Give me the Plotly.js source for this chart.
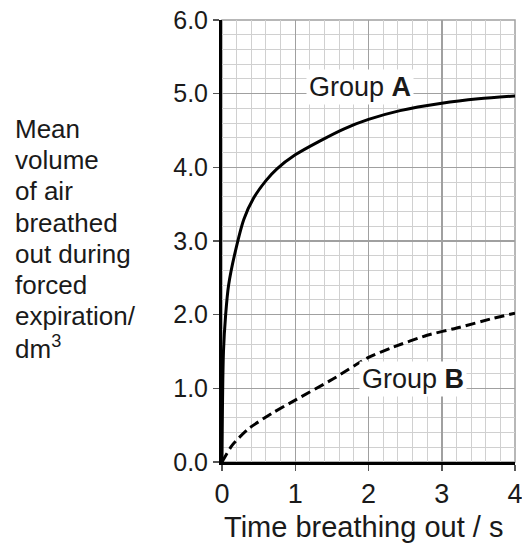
<!DOCTYPE html>
<html>
<head>
<meta charset="utf-8">
<script src="https://cdn.plot.ly/plotly-3.0.1.min.js"></script>
<style>html,body{margin:0;padding:0;background:#fff;}#chart{width:522px;height:545px;}</style>
</head>
<body>
<div id="chart"></div>
<script>
// ---- data ----
const timeA = [0, 0.02, 0.05, 0.09, 0.18, 0.30, 0.43, 0.60, 0.75, 1.00, 1.34, 1.66, 2.00, 2.43, 3.00, 3.50, 4.00];
const volA  = [0, 1.50, 2.00, 2.40, 2.85, 3.30, 3.58, 3.82, 3.98, 4.17, 4.36, 4.52, 4.65, 4.77, 4.87, 4.93, 4.97];
const timeB = [0, 0.14, 0.36, 0.68, 1.00, 1.52, 2.00, 2.34, 2.80, 3.25, 3.70, 4.00];
const volB  = [0, 0.23, 0.45, 0.66, 0.84, 1.13, 1.42, 1.56, 1.72, 1.83, 1.95, 2.02];
const xTickVals = [0, 1, 2, 3, 4];
const yTickVals = [0, 1, 2, 3, 4, 5, 6];
const yTitleLines = ["Mean", "volume", "of air", "breathed", "out during", "forced", "expiration/", "dm<sup>3</sup>"];
const xTitleText = "Time breathing out / s";
const labelA = "Group <b>A</b>";
const labelB = "Group <b>B</b>";

// ---- layout helpers ----
const W = 522, H = 545, M = {l: 222, r: 7, t: 20, b: 83};
const PW = W - M.l - M.r, PH = H - M.t - M.b;
const pxX = px => (px - M.l) / PW;
const pxY = py => (H - M.b - py) / PH;
const FONT = "Liberation Sans, Arial, Helvetica, sans-serif";
const TXT = "#1a1a1a";

const traces = [
  {x: timeA, y: volA, mode: "lines", line: {color: "#000", width: 3, shape: "spline", smoothing: 0.9}, hoverinfo: "skip"},
  {x: timeB, y: volB, mode: "lines", line: {color: "#000", width: 3, dash: "10px,5px", shape: "spline", smoothing: 0.6}, hoverinfo: "skip"}
];

const annotations = [];
yTitleLines.forEach((t, i) => {
  annotations.push({
    text: t, xref: "paper", yref: "paper", x: pxX(13), y: pxY(129 + i * 31.2),
    xanchor: "left", yanchor: "middle", showarrow: false, align: "left",
    font: {family: FONT, size: 26, color: TXT}
  });
});
annotations.push({text: xTitleText, xref: "paper", yref: "paper", x: pxX(363), y: pxY(527),
  xanchor: "center", yanchor: "middle", showarrow: false, font: {family: FONT, size: 29, color: TXT}});
annotations.push({text: labelA, xref: "x", yref: "y", x: 1.88, y: 5.09, xanchor: "center", yanchor: "middle",
  showarrow: false, bgcolor: "#fff", borderpad: 2, font: {family: FONT, size: 27, color: TXT}});
annotations.push({text: labelB, xref: "x", yref: "y", x: 2.61, y: 1.13, xanchor: "center", yanchor: "middle",
  showarrow: false, bgcolor: "#fff", borderpad: 2, font: {family: FONT, size: 27, color: TXT}});

const layout = {
  width: W, height: H, margin: M, paper_bgcolor: "#fff", plot_bgcolor: "#fff",
  showlegend: false, font: {family: FONT, color: TXT},
  xaxis: {
    range: [0, 4], tickvals: xTickVals, ticktext: xTickVals.map(String),
    ticklabeloverflow: "allow",
    showgrid: true, gridcolor: "#a0a0a0", gridwidth: 1.5,
    minor: {dtick: 0.2, showgrid: true, gridcolor: "#d0d0d0", gridwidth: 1},
    zeroline: false, showline: true, linecolor: "#000", linewidth: 3,
    ticks: "outside", ticklen: 6, tickwidth: 1.5, tickcolor: "#555",
    tickfont: {family: FONT, size: 27, color: TXT}, fixedrange: true
  },
  yaxis: {
    range: [0, 6], tickvals: yTickVals, tickformat: ".1f",
    ticklabeloverflow: "allow",
    showgrid: true, gridcolor: "#a0a0a0", gridwidth: 1.5,
    minor: {dtick: 0.2, showgrid: true, gridcolor: "#d0d0d0", gridwidth: 1},
    zeroline: false, showline: true, linecolor: "#000", linewidth: 3,
    ticks: "outside", ticklen: 6, tickwidth: 1.5, tickcolor: "#555",
    tickfont: {family: FONT, size: 25, color: TXT}, fixedrange: true
  },
  shapes: [
    {type: "rect", xref: "paper", yref: "paper", x0: 0, x1: 1, y0: 0, y1: 1,
     line: {color: "#a0a0a0", width: 1.5}, fillcolor: "rgba(0,0,0,0)", layer: "below"}
  ],
  annotations: annotations
};

Plotly.newPlot("chart", traces, layout, {staticPlot: true, displayModeBar: false});
</script>
</body>
</html>
